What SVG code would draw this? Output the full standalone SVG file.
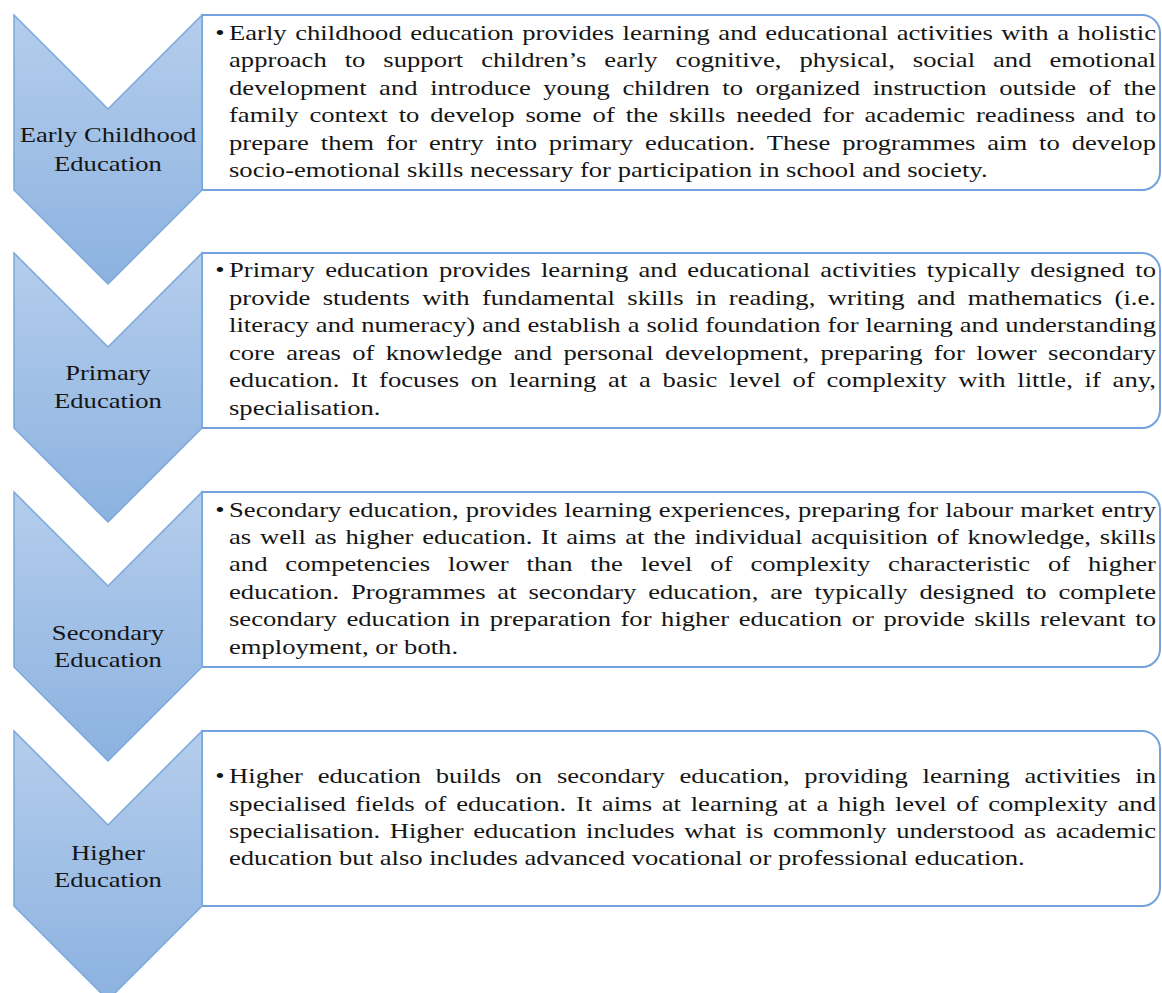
<svg xmlns="http://www.w3.org/2000/svg" width="1162" height="993" viewBox="0 0 1162 993">
<defs>
<linearGradient id="chev" x1="0" y1="0" x2="0" y2="1">
<stop offset="0" stop-color="#b4cdec"/>
<stop offset="1" stop-color="#8cb2e0"/>
</linearGradient>
<style>
.chev{fill:url(#chev);stroke:#7aa8dd;stroke-width:1.5}
.box{fill:#ffffff;stroke:#72a3dc;stroke-width:2}
.t{font-family:"Liberation Serif","Times New Roman",serif;font-size:22px;fill:#151515}
.lbl{text-anchor:middle}
.bul{text-anchor:middle}
</style>
</defs>
<rect width="1162" height="993" fill="#ffffff"/>
<g id="connectors"></g>

<g id="node-early-childhood">
<path class="box" d="M202,15 H1142 A18,18 0 0 1 1160,33 V172 A18,18 0 0 1 1142,190 H202 Z"/>
<polygon class="chev" points="14,15 108,109 202,15 202,190 108,284 14,190"/>
<g transform="scale(1.21 1)">
<text class="t lbl" x="89.26" y="141.7">Early Childhood</text>
<text class="t lbl" x="89.26" y="170.7">Education</text>
<text class="t bul" x="181.8" y="40">•</text>
<text class="t" x="189.26" y="40" textLength="766.1" lengthAdjust="spacing" style="word-spacing:1.58px">Early childhood education provides learning and educational activities with a holistic</text>
<text class="t" x="189.26" y="67.5" textLength="766.1" lengthAdjust="spacing" style="word-spacing:9.29px">approach to support children’s early cognitive, physical, social and emotional</text>
<text class="t" x="189.26" y="95" textLength="766.1" lengthAdjust="spacing" style="word-spacing:4.88px">development and introduce young children to organized instruction outside of the</text>
<text class="t" x="189.26" y="122.5" textLength="766.1" lengthAdjust="spacing" style="word-spacing:3.52px">family context to develop some of the skills needed for academic readiness and to</text>
<text class="t" x="189.26" y="150" textLength="766.1" lengthAdjust="spacing" style="word-spacing:4.33px">prepare them for entry into primary education. These programmes aim to develop</text>
<text class="t" x="189.26" y="177.5">socio-emotional skills necessary for participation in school and society.</text>
</g>
</g>

<g id="node-primary">
<path class="box" d="M202,253 H1142 A18,18 0 0 1 1160,271 V410 A18,18 0 0 1 1142,428 H202 Z"/>
<polygon class="chev" points="14,253 108,347 202,253 202,428 108,522 14,428"/>
<g transform="scale(1.21 1)">
<text class="t lbl" x="89.26" y="380.5">Primary</text>
<text class="t lbl" x="89.26" y="408.5">Education</text>
<text class="t bul" x="181.8" y="277.5">•</text>
<text class="t" x="189.26" y="277.5" textLength="766.1" lengthAdjust="spacing" style="word-spacing:3.04px">Primary education provides learning and educational activities typically designed to</text>
<text class="t" x="189.26" y="305" textLength="766.1" lengthAdjust="spacing" style="word-spacing:4.69px">provide students with fundamental skills in reading, writing and mathematics (i.e.</text>
<text class="t" x="189.26" y="332.5" textLength="766.1" lengthAdjust="spacing" style="word-spacing:0.27px">literacy and numeracy) and establish a solid foundation for learning and understanding</text>
<text class="t" x="189.26" y="360" textLength="766.1" lengthAdjust="spacing" style="word-spacing:3.85px">core areas of knowledge and personal development, preparing for lower secondary</text>
<text class="t" x="189.26" y="387.5" textLength="766.1" lengthAdjust="spacing" style="word-spacing:4.14px">education. It focuses on learning at a basic level of complexity with little, if any,</text>
<text class="t" x="189.26" y="415">specialisation.</text>
</g>
</g>

<g id="node-secondary">
<path class="box" d="M202,492 H1142 A18,18 0 0 1 1160,510 V649 A18,18 0 0 1 1142,667 H202 Z"/>
<polygon class="chev" points="14,492 108,586 202,492 202,667 108,761 14,667"/>
<g transform="scale(1.21 1)">
<text class="t lbl" x="89.26" y="640">Secondary</text>
<text class="t lbl" x="89.26" y="666.7">Education</text>
<text class="t bul" x="181.8" y="516.6">•</text>
<text class="t" x="189.26" y="516.6" textLength="766.1" lengthAdjust="spacing" style="word-spacing:0.33px">Secondary education, provides learning experiences, preparing for labour market entry</text>
<text class="t" x="189.26" y="544" textLength="766.1" lengthAdjust="spacing" style="word-spacing:1.73px">as well as higher education. It aims at the individual acquisition of knowledge, skills</text>
<text class="t" x="189.26" y="571.4" textLength="766.1" lengthAdjust="spacing" style="word-spacing:9.28px">and competencies lower than the level of complexity characteristic of higher</text>
<text class="t" x="189.26" y="598.8" textLength="766.1" lengthAdjust="spacing" style="word-spacing:4.27px">education. Programmes at secondary education, are typically designed to complete</text>
<text class="t" x="189.26" y="626.2" textLength="766.1" lengthAdjust="spacing" style="word-spacing:2.38px">secondary education in preparation for higher education or provide skills relevant to</text>
<text class="t" x="189.26" y="653.6">employment, or both.</text>
</g>
</g>

<g id="node-higher">
<path class="box" d="M202,731 H1142 A18,18 0 0 1 1160,749 V888 A18,18 0 0 1 1142,906 H202 Z"/>
<polygon class="chev" points="14,731 108,825 202,731 202,906 108,1000 14,906"/>
<g transform="scale(1.21 1)">
<text class="t lbl" x="89.26" y="860">Higher</text>
<text class="t lbl" x="89.26" y="886.7">Education</text>
<text class="t bul" x="181.8" y="783.5">•</text>
<text class="t" x="189.26" y="783.5" textLength="766.1" lengthAdjust="spacing" style="word-spacing:6.64px">Higher education builds on secondary education, providing learning activities in</text>
<text class="t" x="189.26" y="810.8" textLength="766.1" lengthAdjust="spacing" style="word-spacing:2.48px">specialised fields of education. It aims at learning at a high level of complexity and</text>
<text class="t" x="189.26" y="838.1" textLength="766.1" lengthAdjust="spacing" style="word-spacing:2.53px">specialisation. Higher education includes what is commonly understood as academic</text>
<text class="t" x="189.26" y="865.4">education but also includes advanced vocational or professional education.</text>
</g>
</g>
</svg>
